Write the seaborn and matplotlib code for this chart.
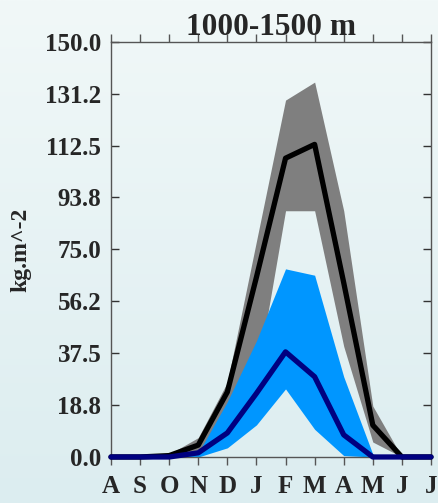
import matplotlib
matplotlib.use("Agg")
import matplotlib.pyplot as plt
import numpy as np
import pandas as pd
import seaborn as sns

months = ["A", "S", "O", "N", "D", "J", "F", "M", "A", "M", "J", "J"]

# upper-elevation band (grey) and its mean (black)
grey_low = [0, 0, 0, 2, 15, 28, 89, 89, 40, 5.4, 0, 0]
grey_high = [0, 0, 1, 7, 27, 78, 129, 135.5, 89, 18.4, 0, 0]
black_mean = [0, 0, 0.5, 4.3, 23.5, 65, 108, 113, 63, 11.5, 0, 0]

# blue band and its mean (navy)
blue_low = [0, 0, 0, 0, 3.3, 11.6, 24.6, 10, 0.5, 0, 0, 0]
blue_high = [0, 0, 0, 1.5, 20, 42, 68, 65.7, 29, 1, 0, 0]
navy_mean = [0, 0, 0, 1.5, 8.7, 23, 38, 29, 8, 0, 0, 0]

y_ticks = [0.0, 18.8, 37.5, 56.2, 75.0, 93.8, 112.5, 131.2, 150.0]

df = pd.DataFrame(
    {
        "x": np.arange(len(months)),
        "grey_low": grey_low,
        "grey_high": grey_high,
        "black": black_mean,
        "blue_low": blue_low,
        "blue_high": blue_high,
        "navy": navy_mean,
    }
)

sns.set_style("white")
plt.rcParams["font.family"] = ["Liberation Serif", "DejaVu Serif"]
plt.rcParams["font.weight"] = "bold"

fig = plt.figure(figsize=(4.38, 5.03), dpi=100)

# soft vertical gradient background
bg = fig.add_axes([0, 0, 1, 1], zorder=-10)
grad = np.linspace(0, 1, 256).reshape(-1, 1)
top = np.array([0xF1, 0xF8, 0xF8]) / 255
bot = np.array([0xDC, 0xED, 0xF0]) / 255
img = top + (bot - top) * grad[:, :, None]
bg.imshow(img, aspect="auto", extent=[0, 1, 0, 1])
bg.axis("off")

ax = fig.add_axes([0.2534, 0.0915, 0.7306, 0.825])
ax.patch.set_alpha(0)

ax.fill_between(df["x"], df["grey_low"], df["grey_high"], color="#7f7f7f", lw=0, zorder=1)
ax.fill_between(df["x"], df["blue_low"], df["blue_high"], color="#0096ff", lw=0, zorder=2)

sns.lineplot(data=df, x="x", y="black", color="black", lw=3.8, ax=ax, zorder=3, clip_on=False)
sns.lineplot(data=df, x="x", y="navy", color="#000080", lw=3.8, ax=ax, zorder=4, clip_on=False)

ax.set_xlim(0, len(months) - 1)
ax.set_ylim(0, 150)
ax.set_xticks(df["x"])
ax.set_xticklabels(months, fontsize=18, fontweight="bold")
ax.set_yticks(y_ticks)
ax.set_yticklabels([f"{v:.1f}" for v in y_ticks], fontsize=18, fontweight="bold")
ax.set_xlabel("")
ax.set_ylabel("kg.m^-2", fontsize=17, fontweight="bold", labelpad=10)
ax.set_title("1000-1500 m", fontsize=22.5, fontweight="bold", pad=5)

for side in ["left", "right", "top", "bottom"]:
    ax.spines[side].set_color("#555555")
    ax.spines[side].set_linewidth(1.0)

ax.tick_params(axis="x", which="both", direction="out", length=6, width=1,
               color="#555555", top=True, bottom=True, pad=7)
ax.tick_params(axis="y", which="both", direction="in", length=6, width=1,
               color="#333333", left=True, right=True, pad=7)

fig.savefig("out.png", dpi=100)
